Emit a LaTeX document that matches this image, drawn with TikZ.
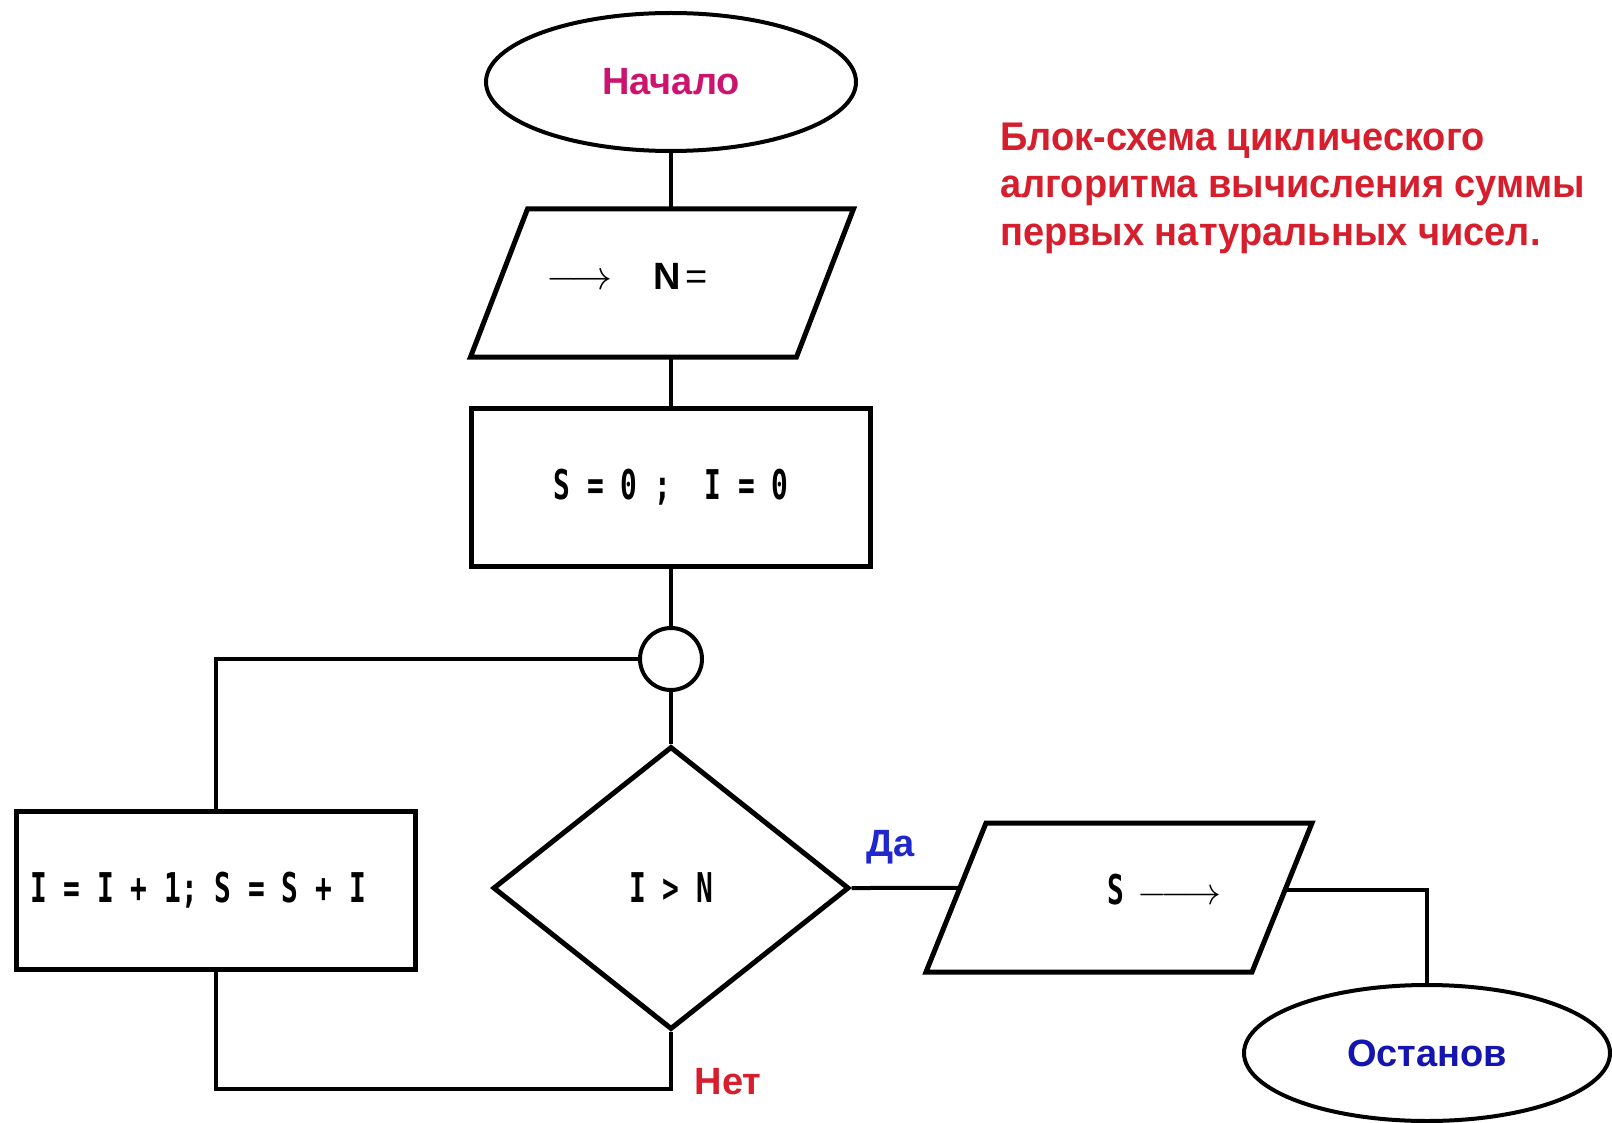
\documentclass[tikz,border=0pt]{standalone}
\usepackage{fix-cm}
\usepackage{fontspec}
\setmainfont{Liberation Sans}
\newfontfamily\boxfont[FakeStretch=0.68]{DejaVu Sans Mono}
\newfontfamily\titlefont[FakeStretch=0.95]{Liberation Sans}
\usetikzlibrary{shapes.geometric,calc}

\definecolor{startpink}{RGB}{204,20,110}
\definecolor{titlered}{RGB}{214,30,45}
\definecolor{yesblue}{RGB}{30,40,205}
\definecolor{stopblue}{RGB}{20,20,175}

\begin{document}
\begin{tikzpicture}[x=1pt,y=-1pt,
  terminal/.style={ellipse, draw, line width=4pt, inner sep=0pt},
  % body of an input/output block; its slanted outline is drawn from the corners
  iobody/.style={rectangle, draw=none, inner sep=0pt, outer sep=0pt,
    minimum width=326pt, minimum height=148pt},
  outline/.style={line width=5pt, line join=miter},
  process/.style={rectangle, draw, line width=5pt, minimum width=399pt,
    minimum height=158pt, inner sep=0pt},
  junction/.style={circle, draw, line width=4pt, minimum size=62pt, inner sep=0pt},
  decision/.style={diamond, draw, line width=5pt, minimum width=356pt,
    minimum height=283pt, inner sep=0pt},
  flow/.style={line width=4pt},
  labeltext/.style={font=\fontsize{38}{44}\selectfont\bfseries},
  codetext/.style={font=\fontsize{41}{48}\selectfont\boxfont\bfseries},
]
% page
\useasboundingbox (0,0) rectangle (1612,1123);
\fill[white] (0,0) rectangle (1612,1123);

% terminal and process blocks
\node[terminal, minimum width=370pt, minimum height=138pt, labeltext, text=startpink]
  (start) at (671,82) {Начало};
\node[process, codetext] (init) at (671,487) {S = 0 ;\ \ I = 0};
\node[junction] (join) at (671,659) {};
\node[decision, codetext] (test) at (671,888) {I > N};
\node[process] (incr) at (216,890) {};
\node[codetext] (incrtext) at (198,890) {I = I + 1; S = S + I};
\node[terminal, minimum width=366pt, minimum height=136pt, labeltext, text=stopblue]
  (stop) at (1427,1053) {Останов};

% input block
\node[iobody] (input) at (662,283) {};
\draw[outline] ([xshift=28.5pt]input.north west) coordinate (input-tl)
  -- ([xshift=28.5pt]input.north east) coordinate (input-tr)
  -- ([xshift=-28.5pt]input.south east) coordinate (input-br)
  -- ([xshift=-28.5pt]input.south west) coordinate (input-bl) -- cycle;
\node[font=\fontsize{38}{44}\selectfont, anchor=west] (inputtext) at (543,276)
  {{\fontsize{41}{48}\selectfont$\longrightarrow$}\hspace{41pt}\textbf{N}\hspace{4pt}=};

% output block
\node[iobody, minimum width=326pt, minimum height=149pt] (output) at (1119,897.5) {};
\draw[outline] ([xshift=30pt]output.north west) coordinate (output-tl)
  -- ([xshift=30pt]output.north east) coordinate (output-tr)
  -- ([xshift=-30pt]output.south east) coordinate (output-br)
  -- ([xshift=-30pt]output.south west) coordinate (output-bl) -- cycle;
\node[font=\fontsize{38}{44}\selectfont, anchor=west] (outputtext) at (1104,890)
  {{\fontsize{41}{48}\selectfont\boxfont\bfseries S}\hspace{13pt}$\relbar\joinrel\longrightarrow$};

% title
\node[font=\fontsize{40}{47.5}\selectfont\titlefont\bfseries, text=titlered, align=left,
  anchor=west, inner sep=0pt] (title) at (1000,188)
  {Блок-схема циклического\\алгоритма вычисления суммы\\первых натуральных чисел.};

% branch labels
\node[labeltext, text=yesblue] (yes) at (891,847) {Да};
\node[labeltext, text=titlered] (no) at (728,1082) {Нет};

% connectors
\draw[flow] (start.south) -- (start.south |- input.north);
\draw[flow] (init.north |- input.south) -- (init.north);
\draw[flow] (init.south) -- (join.north);
\draw[flow] (join.south) -- (test.north);
\draw[flow] (join.west) -| (incr.north);
\draw[flow] (test.south) -- ++(0,57) -| (incr.south);
\draw[flow] (test.east) -- ($(output-bl)!0.564!(output-tl)$);
\draw[flow] ($(output-br)!0.55!(output-tr)$) -| (stop.north);
\end{tikzpicture}
\end{document}
